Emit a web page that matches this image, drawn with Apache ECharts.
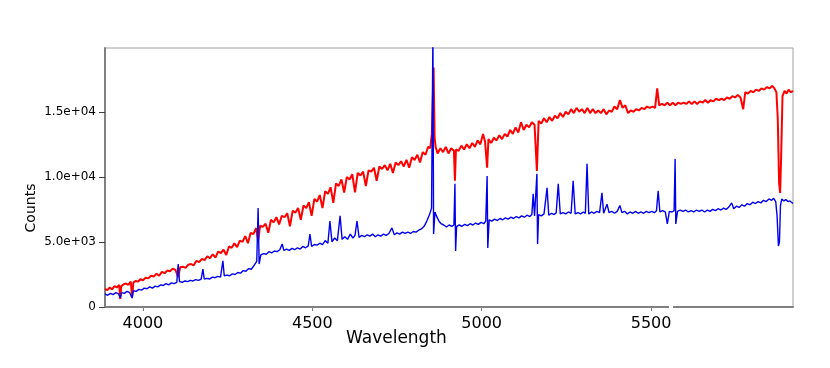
<!DOCTYPE html>
<html>
<head>
<meta charset="utf-8">
<script src="https://cdn.jsdelivr.net/npm/echarts@6/dist/echarts.min.js"></script>
<style>
  html, body { margin: 0; padding: 0; background: #fff; }
  #chart { width: 830px; height: 368px; }
</style>
</head>
<body>
<div id="chart"></div>
<script>
// 波长刻度与计数刻度
const xTicks = [4000, 4500, 5000, 5500]
const yTicks = [0, 5000, 10000, 15000]

// 红色光谱 [波长, 计数]
const redSpectrum = [
  [3888,1400],[3895,1300],[3902,1500],[3909,1350],[3916,1600],[3923,1500],[3930,1700],[3933,615],[3936,1600],
  [3943,1750],[3950,1800],[3957,1700],[3964,1950],[3968,850],[3972,1900],[3979,2000],[3986,1950],[3993,2150],
  [4000,2050],[4008,2250],[4016,2200],[4024,2400],[4032,2350],[4040,2550],[4048,2400],[4056,2700],[4064,2600],
  [4072,2800],[4080,2750],[4088,2950],[4096,2850],[4104,2300],[4110,3050],[4118,3100],[4126,3000],[4134,3250],
  [4142,3300],[4150,3200],[4158,3550],[4166,3450],[4174,3700],[4182,3600],[4190,3900],[4198,3750],[4206,4050],
  [4214,3800],[4222,4250],[4230,4150],[4238,4400],[4246,4000],[4254,4650],[4262,4550],[4270,4900],[4278,4600],
  [4286,5100],[4294,5000],[4302,5450],[4310,4900],[4318,5700],[4326,5600],[4334,6050],[4340,5100],[4346,6250],
  [4354,6150],[4362,6400],[4370,5700],[4378,6700],[4386,6500],[4394,6900],[4402,6350],[4410,7000],[4418,6900],
  [4426,7200],[4434,6200],[4442,7400],[4450,7250],[4458,7600],[4466,6700],[4474,7800],[4482,7600],[4490,8050],
  [4498,7000],[4506,8300],[4514,8100],[4522,8600],[4530,7600],[4538,8900],[4546,8700],[4554,9200],[4562,8000],
  [4570,9500],[4578,9300],[4586,9800],[4594,8800],[4602,10000],[4610,9800],[4618,10200],[4626,8800],[4634,10300],
  [4642,10100],[4650,10400],[4658,9300],[4666,10500],[4674,10400],[4682,10700],[4690,9700],[4698,10800],
  [4706,10600],[4714,10900],[4722,10500],[4730,11000],[4738,10300],[4746,11100],[4754,10900],[4762,11200],
  [4770,10800],[4778,11300],[4786,10700],[4794,11500],[4802,11300],[4810,11700],[4818,11100],[4826,11900],
  [4834,11700],[4842,12300],[4848,12200],[4853,13300],[4858,18400],[4861,13000],[4864,12300],[4870,11800],
  [4878,12200],[4886,11900],[4894,12300],[4902,11800],[4910,12200],[4918,12000],[4921,9700],[4924,12100],
  [4932,12000],[4940,12400],[4948,12100],[4956,12500],[4964,12200],[4972,12600],[4980,12300],[4988,12800],
  [4996,12500],[5004,13300],[5010,12700],[5016,10700],[5020,12900],[5028,12600],[5036,13000],[5044,12800],
  [5052,13200],[5060,12900],[5068,13300],[5076,13100],[5084,13600],[5092,13300],[5100,13800],[5108,13400],
  [5116,14200],[5124,13600],[5132,14000],[5140,13800],[5148,14200],[5156,14000],[5163,10460],[5168,14300],
  [5176,14100],[5184,14500],[5192,14200],[5200,14600],[5208,14300],[5216,14700],[5224,14500],[5232,14900],
  [5240,14600],[5248,15000],[5256,14800],[5264,15200],[5272,14900],[5280,15300],[5288,15000],[5296,15200],
  [5304,14900],[5312,15300],[5320,14900],[5328,15200],[5336,14900],[5344,15100],[5352,14900],[5360,15200],
  [5368,14800],[5376,15100],[5384,15000],[5392,15400],[5400,15200],[5408,15900],[5416,15300],[5424,15500],
  [5432,14900],[5440,15100],[5448,15000],[5456,15200],[5464,15100],[5472,15300],[5480,15200],[5488,15400],
  [5496,15300],[5504,15400],[5512,15300],[5518,16800],[5524,15500],[5532,15600],[5540,15500],[5548,15700],
  [5556,15500],[5564,15700],[5572,15500],[5580,15700],[5588,15600],[5596,15700],[5604,15600],[5612,15800],
  [5620,15600],[5628,15800],[5636,15600],[5644,15800],[5652,15700],[5660,15900],[5668,15700],[5676,15900],
  [5684,15800],[5692,16000],[5700,15900],[5708,16000],[5716,15900],[5724,16100],[5732,16000],[5740,16200],
  [5748,16100],[5756,16300],[5764,16100],[5772,15200],[5778,16500],[5786,16400],[5794,16600],[5802,16500],
  [5810,16700],[5818,16600],[5826,16800],[5834,16700],[5842,16900],[5850,16800],[5858,17000],[5864,16800],
  [5870,16500],[5874,14500],[5878,9500],[5881,8770],[5884,11500],[5888,16200],[5894,16600],[5900,16400],
  [5906,16700],[5912,16500],[5919,16600]
]

// 蓝色光谱 [波长, 计数]
const blueSpectrum = [
  [3888,1000],[3896,900],[3904,1050],[3912,950],[3920,1100],[3928,1000],[3933,700],[3937,1100],[3945,1050],
  [3953,1200],[3961,1100],[3968,690],[3972,1250],[3980,1200],[3988,1350],[3996,1300],[4004,1450],[4012,1400],
  [4020,1550],[4028,1450],[4036,1600],[4044,1550],[4052,1700],[4060,1650],[4068,1800],[4076,1700],[4084,1850],
  [4092,1800],[4100,1900],[4104,3300],[4108,1950],[4116,1900],[4124,2000],[4132,1950],[4140,2050],[4148,2000],
  [4156,2100],[4164,2050],[4172,2150],[4177,2920],[4181,2150],[4189,2200],[4197,2150],[4205,2300],[4213,2250],
  [4221,2350],[4229,2300],[4236,3540],[4240,2400],[4248,2450],[4256,2400],[4264,2550],[4272,2500],[4280,2650],
  [4288,2600],[4296,2800],[4304,2750],[4312,2950],[4320,2900],[4328,3200],[4336,3500],[4340,7600],[4343,3300],
  [4348,4000],[4356,4100],[4364,4050],[4372,4250],[4380,4150],[4388,4300],[4396,4250],[4404,4400],[4411,4840],
  [4416,4350],[4424,4450],[4432,4350],[4440,4500],[4448,4400],[4456,4550],[4464,4450],[4472,4650],[4480,4550],
  [4488,4700],[4493,5610],[4498,4650],[4506,4800],[4514,4750],[4522,4900],[4530,4800],[4538,5100],[4546,4900],
  [4552,6610],[4558,5000],[4566,5300],[4574,5100],[4582,7000],[4588,5200],[4596,5400],[4604,5200],[4612,5600],
  [4620,5300],[4626,5500],[4632,6610],[4638,5350],[4646,5500],[4654,5400],[4662,5550],[4670,5450],[4678,5600],
  [4686,5400],[4694,5550],[4702,5450],[4710,5600],[4718,5500],[4726,5650],[4735,6080],[4742,5550],[4750,5700],
  [4758,5600],[4766,5750],[4774,5650],[4782,5750],[4790,5650],[4798,5800],[4806,5750],[4814,5900],[4822,6000],
  [4830,6200],[4838,6600],[4846,7100],[4852,7600],[4856,21000],[4858,5600],[4862,7300],[4868,6900],[4874,6600],
  [4880,6400],[4888,6300],[4896,6150],[4904,6300],[4912,6200],[4918,6300],[4921,9460],[4923,4310],[4926,6200],
  [4934,6300],[4942,6200],[4950,6350],[4958,6250],[4966,6400],[4974,6300],[4982,6450],[4990,6350],[4998,6500],
  [5006,6400],[5012,6600],[5016,10070],[5018,4540],[5022,6700],[5030,6600],[5038,6750],[5046,6650],[5054,6800],
  [5062,6700],[5070,6850],[5078,6750],[5086,6900],[5094,6800],[5102,6950],[5110,6850],[5118,7000],[5126,6900],
  [5134,7050],[5142,6950],[5148,7100],[5152,8690],[5156,7000],[5163,10230],[5165,4850],[5168,7100],[5176,7000],
  [5184,7150],[5193,9150],[5198,7050],[5206,7200],[5214,7100],[5220,7250],[5226,9460],[5232,7150],[5240,7250],
  [5248,7150],[5256,7300],[5264,7200],[5270,9690],[5276,7150],[5284,7250],[5292,7150],[5300,7300],[5306,7200],
  [5311,11000],[5316,7150],[5324,7300],[5332,7200],[5340,7350],[5348,7250],[5355,8770],[5360,7200],[5370,7900],
  [5376,7250],[5384,7350],[5392,7200],[5400,7350],[5408,7800],[5414,7250],[5422,7350],[5430,7150],[5438,7300],
  [5446,7200],[5454,7350],[5462,7200],[5470,7300],[5478,7200],[5486,7350],[5494,7250],[5502,7350],[5510,7250],
  [5516,7400],[5521,8920],[5526,7300],[5534,7400],[5542,7300],[5548,6380],[5554,7350],[5562,7300],[5568,7400],
  [5571,11380],[5573,6380],[5578,7350],[5586,7450],[5594,7350],[5602,7450],[5610,7300],[5618,7400],[5626,7300],
  [5634,7450],[5642,7350],[5650,7450],[5658,7300],[5666,7450],[5674,7350],[5682,7500],[5690,7400],[5698,7550],
  [5706,7450],[5714,7600],[5722,7500],[5730,7700],[5738,8000],[5744,7550],[5752,7750],[5760,7650],[5768,7850],
  [5776,7750],[5784,7950],[5792,7850],[5800,8050],[5808,7950],[5816,8100],[5824,8000],[5832,8200],[5840,8100],
  [5848,8300],[5856,8200],[5862,8350],[5868,8100],[5872,7000],[5876,4690],[5879,5000],[5882,7800],[5886,8300],
  [5892,8150],[5898,8250],[5904,8100],[5910,8150],[5919,7950]
]

// 科学计数法标签 1.5e+04
const sci = (v) => {
  if (v === 0) return '0'
  const parts = v.toExponential(1).split('e')
  const exp = parts[1]
  return parts[0] + 'e' + exp[0] + exp.slice(1).padStart(2, '0')
}

const myChart = echarts.init(document.getElementById('chart'))

const option = {
  animation: false,
  grid: {
    left: 105,
    right: 37,
    top: 48,
    bottom: 61,
    show: true,
    borderColor: '#a0a0a0',
    borderWidth: 1
  },
  xAxis: {
    type: 'value',
    min: 3888,
    max: 5919,
    axisLine: { show: true, onZero: false, lineStyle: { color: '#808080', width: 2 } },
    axisTick: { show: true, length: 4, customValues: xTicks, lineStyle: { color: '#808080' } },
    axisLabel: {
      customValues: xTicks,
      formatter: (v) => String(v),
      fontFamily: 'DejaVu Sans',
      fontSize: 16,
      color: '#000',
      margin: 9
    },
    splitLine: { show: false }
  },
  yAxis: {
    type: 'value',
    min: 0,
    max: 19900,
    axisLine: { show: true, lineStyle: { color: '#808080', width: 2 } },
    axisTick: { show: true, length: 6, customValues: yTicks, lineStyle: { color: '#404040' } },
    axisLabel: {
      customValues: yTicks,
      formatter: sci,
      fontFamily: 'DejaVu Sans',
      fontSize: 12,
      color: '#000',
      margin: 9
    },
    splitLine: { show: false }
  },
  graphic: [
    {
      type: 'text',
      left: 346,
      top: 330,
      style: { text: 'Wavelength', fontFamily: 'DejaVu Sans', fontSize: 17, fill: '#000' }
    },
    {
      type: 'text',
      x: 38,
      y: 208,
      rotation: Math.PI / 2,
      style: { text: 'Counts', fontFamily: 'DejaVu Sans', fontSize: 14, fill: '#000', align: 'center', verticalAlign: 'bottom' }
    },
    {
      type: 'rect',
      shape: { x: 669, y: 302, width: 4, height: 10 },
      style: { fill: '#fff' },
      z: 100
    }
  ],
  series: [
    {
      name: 'red',
      type: 'line',
      data: redSpectrum,
      showSymbol: false,
      lineStyle: { color: '#ff0000', width: 2 },
      clip: true
    },
    {
      name: 'blue',
      type: 'line',
      data: blueSpectrum,
      showSymbol: false,
      lineStyle: { color: '#0000ee', width: 1.4 },
      clip: true
    }
  ]
}

myChart.setOption(option)
</script>
</body>
</html>
